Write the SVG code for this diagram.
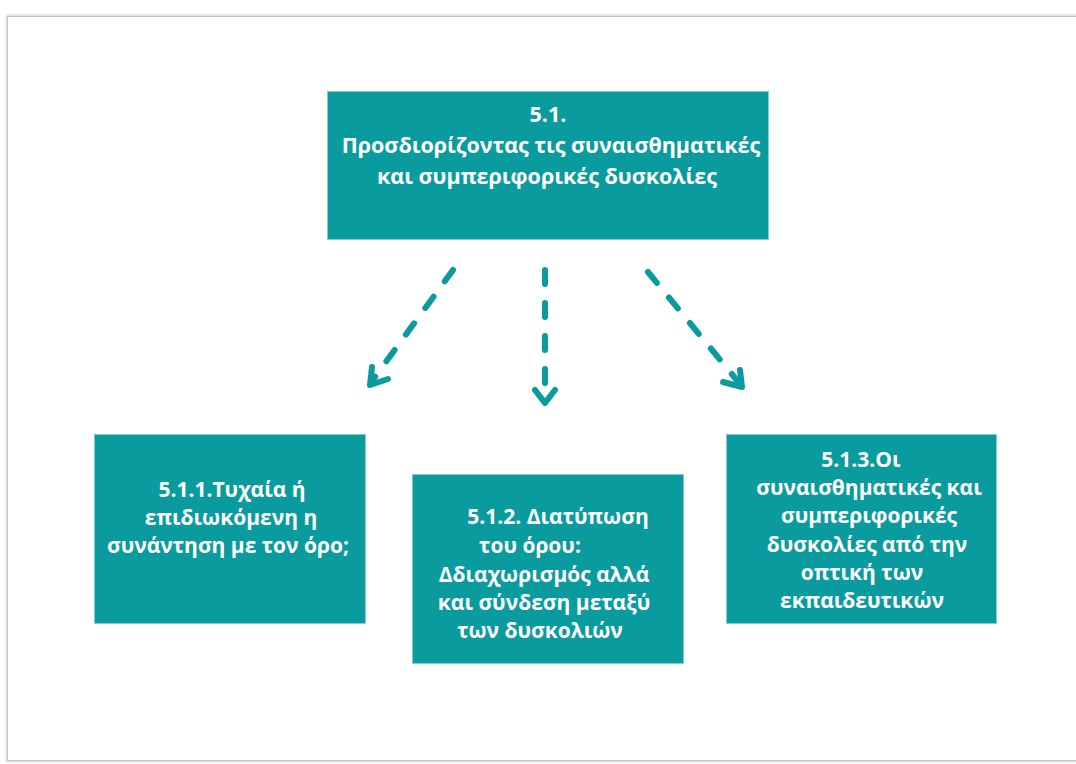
<svg xmlns="http://www.w3.org/2000/svg" width="1076" height="764" viewBox="0 0 1076 764">
<defs>
<style>
.box{fill:#0a9b9f;stroke:#7fcfd1;stroke-width:1}
.t{font-family:"Open Sans","Noto Sans","DejaVu Sans",sans-serif;font-weight:bold;font-size:21px;fill:#ffffff;text-anchor:middle}
.tt{font-size:21.5px}
.c{fill:none;stroke:#0a9b9f;stroke-width:6;stroke-linecap:round;stroke-linejoin:round}
.d{stroke-dasharray:14 19}
</style>
<filter id="sh" x="-5%" y="-5%" width="110%" height="110%">
<feGaussianBlur stdDeviation="1.5"/>
</filter>
</defs>
<rect x="0" y="0" width="1076" height="764" fill="#ffffff"/>
<rect x="6" y="15" width="1090" height="747" fill="#d0d0d0" filter="url(#sh)"/>
<rect x="7.5" y="16.5" width="1090" height="744" fill="#ffffff" stroke="#c4c4c4" stroke-width="1"/>

<g id="n0">
<rect class="box" x="327.5" y="91.5" width="441" height="148"/>
<text class="t tt" x="548" y="122">5.1.</text>
<text class="t tt" x="551" y="153">Προσδιορίζοντας τις συναισθηματικές</text>
<text class="t tt" x="547" y="184">και συμπεριφορικές δυσκολίες</text>
</g>

<g id="n1">
<rect class="box" x="94.5" y="434.5" width="271" height="189"/>
<text class="t" x="232" y="497">5.1.1.Τυχαία ή</text>
<text class="t" x="231" y="525">επιδιωκόμενη η</text>
<text class="t" x="228" y="553">συνάντηση με τον όρο;</text>
</g>

<g id="n2">
<rect class="box" x="412.5" y="474.5" width="271" height="189"/>
<text class="t" x="558" y="524">5.1.2. Διατύπωση</text>
<text class="t" x="530" y="553">του όρου:</text>
<text class="t" x="544" y="582">Δδιαχωρισμός αλλά</text>
<text class="t" x="544" y="610">και σύνδεση μεταξύ</text>
<text class="t" x="540" y="638">των δυσκολιών</text>
</g>

<g id="n3">
<rect class="box" x="726.5" y="434.5" width="270" height="189"/>
<text class="t" x="861" y="467">5.1.3.Οι</text>
<text class="t" x="869" y="495">συναισθηματικές και</text>
<text class="t" x="869" y="523">συμπεριφορικές</text>
<text class="t" x="867" y="552">δυσκολίες από την</text>
<text class="t" x="862" y="580">οπτική των</text>
<text class="t" x="862" y="608">εκπαιδευτικών</text>
</g>

<g id="connectors">
<path class="c d" d="M453 270 L372 381"/>
<path class="c" d="M372 367 L370 385 L388 379"/>
<path class="c d" d="M545 270 L545 400"/>
<path class="c" d="M535 390 L545 403 L555 390"/>
<path class="c d" d="M648 272 L740 384"/>
<path class="c" d="M740 370 L742 387 L723 382"/>
</g>
</svg>
